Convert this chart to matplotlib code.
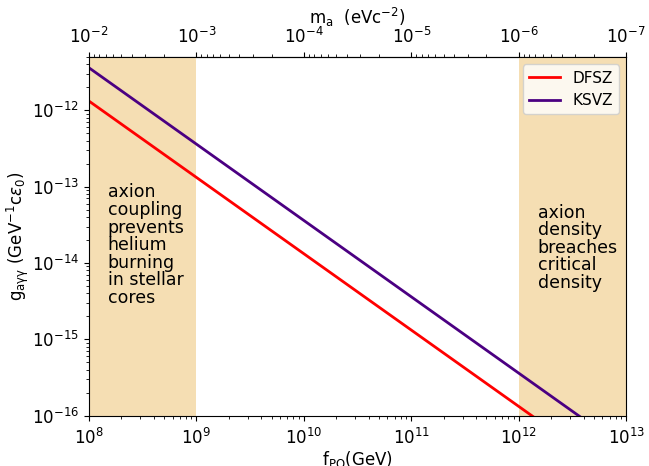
import matplotlib.pyplot as plt
import numpy as np

# Peccei-Quinn scale (GeV) and photon couplings
f_pq = [1e8, 1e9, 1e10, 1e11, 1e12, 1e13]
g_dfsz = [1.32e-12, 1.32e-13, 1.32e-14, 1.32e-15, 1.32e-16, 1.32e-17]
g_ksvz = [3.6e-12, 3.6e-13, 3.6e-14, 3.6e-15, 3.6e-16, 3.6e-17]

# excluded regions
stellar_band = (1e8, 1e9)
density_band = (1e12, 1e13)

fig, ax = plt.subplots(figsize=(6.49, 4.66), dpi=100)

ax.axvspan(*stellar_band, color='wheat', lw=0)
ax.axvspan(*density_band, color='wheat', lw=0)

ax.plot(f_pq, g_dfsz, color='red', lw=2, label='DFSZ')
ax.plot(f_pq, g_ksvz, color='indigo', lw=2, label='KSVZ')

ax.set_xscale('log')
ax.set_yscale('log')
ax.set_xlim(1e8, 1e13)
ax.set_ylim(1e-16, 5e-12)
ax.tick_params(labelsize=12)
ax.tick_params(axis='x', pad=5)

ax.set_xlabel(r'f$_{\rm PQ}$(GeV)', fontsize=12, labelpad=1)
ax.set_ylabel(r'g$_{\rm a\gamma\gamma}$ (GeV$^{-1}$c$\epsilon_0$)', fontsize=12, labelpad=1)

# top axis: axion mass
sec = ax.secondary_xaxis('top', functions=(lambda f: 1e6 / f, lambda m: 1e6 / m))
sec.set_xlabel(r'm$_{\rm a}$  (eVc$^{-2}$)', fontsize=12, labelpad=2)
sec.tick_params(labelsize=12)

ax.text(1.5e8, 1.1e-13, 'axion\ncoupling\nprevents\nhelium\nburning\nin stellar\ncores',
        fontsize=12.5, va='top', ha='left', linespacing=0.97)
ax.text(1.5e12, 6e-14, 'axion\ndensity\nbreaches\ncritical\ndensity',
        fontsize=12.5, va='top', ha='left', linespacing=0.97)

ax.legend(loc='upper right', fontsize=11)

fig.subplots_adjust(left=0.137, right=0.965, top=0.878, bottom=0.108)
fig.savefig('out.png')
